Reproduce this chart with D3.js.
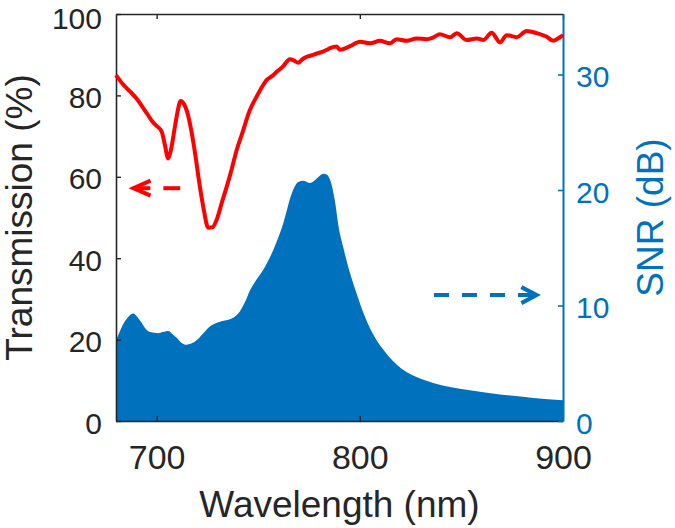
<!DOCTYPE html>
<html>
<head>
<meta charset="utf-8">
<script src="https://cdn.jsdelivr.net/npm/d3@7"></script>
<style>
  html, body { margin: 0; padding: 0; background: #fff; }
  svg { display: block; font-family: "Liberation Sans", Arial, sans-serif; }
</style>
</head>
<body>
<svg id="chart" width="675" height="528"></svg>
<script>
// ---- data ----
const trWavelength = [680, 683, 687, 690, 693, 696, 698, 700, 702.5, 704, 705.7, 707, 709, 710.5, 711.8, 713, 715, 717, 719, 721, 723, 725.4, 727.5, 729.6, 732, 734.5, 737, 739.4, 742, 745.9, 749.2, 752, 754.2, 757, 759.1, 762, 765.6, 767.5, 769.7, 771.5, 773.9, 776, 778.8, 781, 783.7, 785.3, 788.6, 790.2, 795.2, 800.1, 805, 809.9, 814.8, 818.1, 823.1, 828, 832.9, 836, 839.4, 844.4, 847.7, 852.6, 857.5, 860.8, 864.9, 869, 872.3, 877.2, 882.1, 887, 892, 895.2, 898.5, 900];
const trValues = [85.0, 83.0, 80.9, 79.3, 77.2, 75.0, 73.5, 72.5, 71.1, 68.0, 64.5, 66.5, 72.3, 76.5, 78.6, 78.2, 76.0, 71.5, 65.5, 58.5, 52.5, 47.5, 47.6, 49.5, 53.5, 57.6, 62.0, 66.6, 70.5, 76.4, 79.7, 82.2, 83.8, 84.8, 85.8, 87.0, 88.9, 88.6, 88.0, 88.8, 89.5, 89.8, 90.3, 90.6, 91.2, 91.6, 92.0, 91.2, 92.1, 93.2, 92.8, 93.4, 92.8, 93.8, 93.4, 94.0, 93.8, 94.2, 95.0, 94.3, 95.3, 93.6, 94.0, 93.6, 95.4, 93.0, 94.8, 94.3, 95.8, 95.3, 94.4, 93.4, 94.3, 94.8];

const snrWavelength = [680, 681.5, 683.6, 686, 688.5, 690.5, 692.6, 694.5, 696.7, 700.8, 703, 705.7, 708, 709.9, 712, 714.8, 717, 719.7, 723, 726.3, 731.2, 736.1, 741, 743.5, 745.9, 749, 752.5, 757.4, 762.3, 766.5, 769.7, 772.2, 775.5, 778.8, 782, 784, 785.3, 787.8, 789.4, 791.9, 795.2, 798.5, 801.7, 806.6, 811.5, 818.1, 827.9, 836.1, 852.6, 869, 885.4, 900];
const snrValues = [7.0, 7.6, 8.4, 9.0, 9.3, 9.0, 8.5, 8.0, 7.7, 7.6, 7.7, 7.8, 7.5, 7.2, 6.8, 6.6, 6.7, 7.0, 7.6, 8.2, 8.6, 8.8, 9.5, 10.3, 11.3, 12.2, 13.1, 14.8, 17.1, 19.7, 20.7, 20.8, 20.6, 21.0, 21.4, 21.3, 20.9, 19.0, 17.0, 15.0, 12.8, 11.0, 9.4, 7.5, 6.2, 4.9, 3.8, 3.3, 2.7, 2.3, 2.0, 1.8];

const xTicks = [700, 800, 900];
const leftTicks = [0, 20, 40, 60, 80, 100];
const rightTicks = [0, 10, 20, 30];

// ---- layout ----
const L = 116, R = 563, T = 14, B = 421;
const svg = d3.select("#chart");
const x = d3.scaleLinear().domain([680, 900]).range([L, R]);
const yL = d3.scaleLinear().domain([0, 100]).range([B, T]);
const yR = d3.scaleLinear().domain([0, 35.24]).range([B, T]);

const dark = "#262626", blue = "#0072BD", red = "#FF0000";
const ff = "Liberation Sans, Arial, sans-serif";

svg.append("defs").append("clipPath").attr("id", "clip")
  .append("rect").attr("x", L).attr("y", T).attr("width", R - L).attr("height", B - T);

// SNR area
const snrData = snrWavelength.map((w, i) => [w, snrValues[i]]);
svg.append("path")
  .datum(snrData)
  .attr("clip-path", "url(#clip)")
  .attr("fill", blue)
  .attr("d", d3.area().x(d => x(d[0])).y0(yR(0)).y1(d => yR(d[1])).curve(d3.curveMonotoneX));

// axes
const fsY = 30, fsX = 34;
const gx = svg.append("g").attr("transform", `translate(0,${B})`)
  .call(d3.axisBottom(x).tickValues(xTicks).tickSizeInner(-5).tickSizeOuter(0).tickPadding(24).tickFormat(d3.format("d")));
const gTop = svg.append("g").attr("transform", `translate(0,${T})`)
  .call(d3.axisTop(x).tickValues(xTicks).tickSizeInner(-5).tickSizeOuter(0).tickFormat(""));
const gl = svg.append("g").attr("transform", `translate(${L},0)`)
  .call(d3.axisLeft(yL).tickValues(leftTicks).tickSizeInner(-5).tickSizeOuter(0).tickPadding(14));
const gr = svg.append("g").attr("transform", `translate(${R},0)`)
  .call(d3.axisRight(yR).tickValues(rightTicks).tickSizeInner(-5).tickSizeOuter(0).tickPadding(13));

[gx, gTop, gl].forEach(g => {
  g.select(".domain").attr("stroke", dark).attr("stroke-width", 1.6);
  g.selectAll(".tick line").attr("stroke", dark).attr("stroke-width", 1.4);
  g.selectAll(".tick text").attr("fill", dark).attr("font-family", ff);
});
gx.selectAll(".tick text").attr("font-size", fsX);
gl.selectAll(".tick text").attr("font-size", fsY).attr("dy", d => d === 100 ? "0.47em" : "0.4em");
gTop.selectAll(".tick text").remove();
gx.selectAll(".tick").filter(d => d === 900).select("line").remove();
gr.select(".domain").attr("stroke", blue).attr("stroke-width", 2);
gr.selectAll(".tick line").attr("stroke", blue).attr("stroke-width", 1.6);
gr.selectAll(".tick text").attr("fill", blue).attr("font-size", fsY).attr("font-family", ff).attr("dy", "0.4em");

// transmission line
const trData = trWavelength.map((w, i) => [w, trValues[i]]);
svg.append("path")
  .datum(trData)
  .attr("fill", "none")
  .attr("stroke", red)
  .attr("stroke-width", 4)
  .attr("stroke-linejoin", "round")
  .attr("d", d3.line().x(d => x(d[0])).y(d => yL(d[1])).curve(d3.curveMonotoneX));

// annotation arrows
const ra = yL(57.2);
svg.append("line").attr("x1", x(688.6)).attr("x2", x(696.9)).attr("y1", ra).attr("y2", ra)
  .attr("stroke", red).attr("stroke-width", 4);
svg.append("line").attr("x1", x(703.3)).attr("x2", x(711.6)).attr("y1", ra).attr("y2", ra)
  .attr("stroke", red).attr("stroke-width", 4);
svg.append("path").attr("d", `M${x(697.0)},${ra - 7.5} L${x(688.6)},${ra} L${x(697.0)},${ra + 7.5}`)
  .attr("fill", "none").attr("stroke", red).attr("stroke-width", 4);

const ba = yR(10.9);
svg.append("line").attr("x1", x(836.5)).attr("x2", x(886.5)).attr("y1", ba).attr("y2", ba)
  .attr("stroke", blue).attr("stroke-width", 4).attr("stroke-dasharray", "15,13");
svg.append("path").attr("d", `M${x(879.5)},${ba - 8} L${x(887)},${ba} L${x(879.5)},${ba + 8}`)
  .attr("fill", "none").attr("stroke", blue).attr("stroke-width", 4);

// axis titles
svg.append("text").attr("x", (L + R) / 2).attr("y", 517).attr("text-anchor", "middle")
  .attr("font-size", 37).attr("fill", dark).text("Wavelength (nm)");
svg.append("text").attr("transform", `translate(32,${(T + B) / 2}) rotate(-90)`).attr("text-anchor", "middle")
  .attr("font-size", 37).attr("fill", dark).text("Transmission (%)");
svg.append("text").attr("transform", `translate(663,${(T + B) / 2}) rotate(-90)`).attr("text-anchor", "middle")
  .attr("font-size", 37).attr("fill", blue).text("SNR (dB)");
</script>
</body>
</html>
